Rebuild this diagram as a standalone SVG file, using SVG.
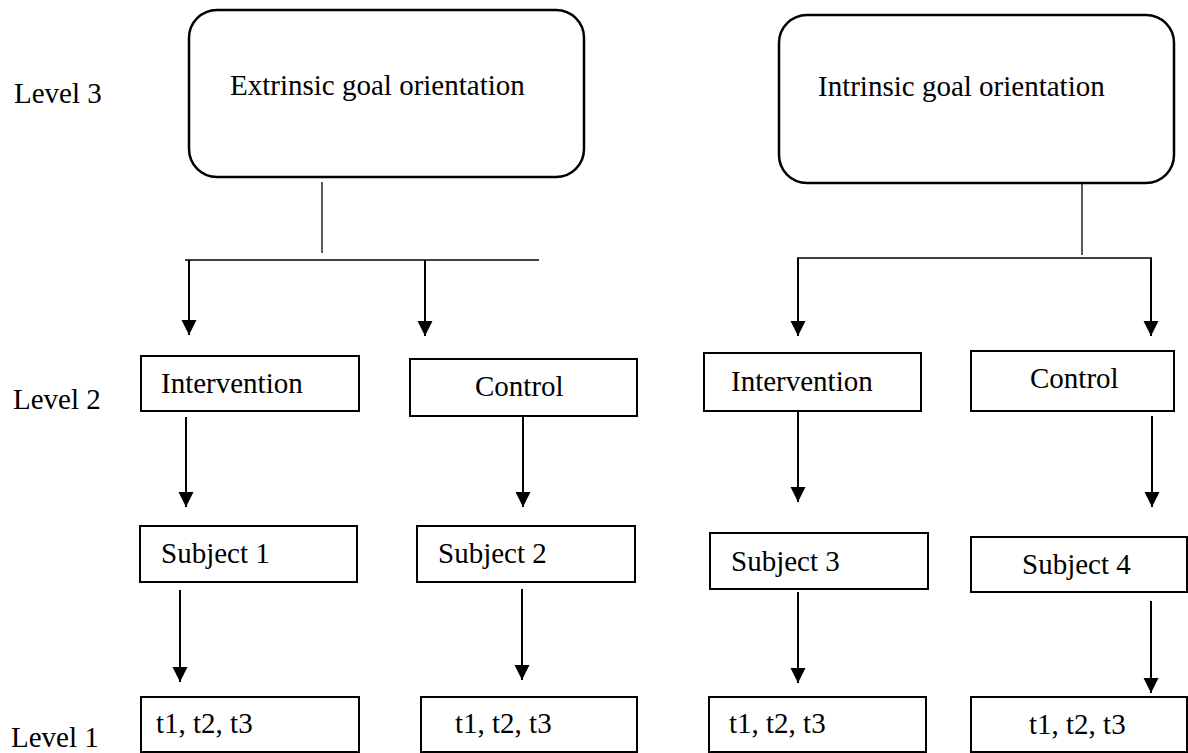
<svg xmlns="http://www.w3.org/2000/svg" width="1188" height="753" viewBox="0 0 1188 753">
<style>
  .box { fill: #ffffff; stroke: #000000; stroke-width: 2; }
  .rbox { fill: #ffffff; stroke: #000000; stroke-width: 2.5; }
  .lbl { font-family: "Liberation Serif", "Times New Roman", serif; font-size: 29px; fill: #000000; }
  .thin { stroke: #000000; stroke-width: 1.3; fill: none; }
  .arr { stroke: #000000; stroke-width: 2; fill: none; marker-end: url(#ah); }
</style>
<defs>
  <marker id="ah" markerUnits="userSpaceOnUse" markerWidth="16" markerHeight="16" refX="15" refY="7.5" orient="auto">
    <path d="M0,0 L15,7.5 L0,15 z" fill="#000000"/>
  </marker>
</defs>
<rect width="1188" height="753" fill="#ffffff"/>

<g id="level-labels">
  <text class="lbl" x="14" y="103">Level 3</text>
  <text class="lbl" x="13" y="409">Level 2</text>
  <text class="lbl" x="11" y="747">Level 1</text>
</g>

<g id="connectors">
  <line class="thin" x1="322" y1="182" x2="322" y2="253"/>
  <line class="thin" x1="185" y1="260" x2="539" y2="260"/>
  <line class="arr" x1="189" y1="260" x2="189" y2="335"/>
  <line class="arr" x1="425" y1="260" x2="425" y2="336"/>
  <line class="thin" x1="1082" y1="183" x2="1082" y2="255"/>
  <line class="thin" x1="797" y1="258" x2="1152" y2="258"/>
  <line class="arr" x1="798" y1="258" x2="798" y2="336"/>
  <line class="arr" x1="1151" y1="258" x2="1151" y2="336"/>
  <line class="arr" x1="186" y1="417" x2="186" y2="507"/>
  <line class="arr" x1="523" y1="416" x2="523" y2="507"/>
  <line class="arr" x1="798" y1="411" x2="798" y2="502"/>
  <line class="arr" x1="1152" y1="416" x2="1152" y2="507"/>
  <line class="arr" x1="180" y1="590" x2="180" y2="682"/>
  <line class="arr" x1="522" y1="589" x2="522" y2="680"/>
  <line class="arr" x1="798" y1="592" x2="798" y2="683"/>
  <line class="arr" x1="1151" y1="601" x2="1151" y2="693"/>
</g>

<g id="extrinsic">
  <rect class="rbox" x="189" y="10" width="395" height="167" rx="28" ry="28"/>
  <text class="lbl" x="230" y="95">Extrinsic goal orientation</text>
</g>
<g id="intrinsic">
  <rect class="rbox" x="779" y="15" width="395" height="168" rx="28" ry="28"/>
  <text class="lbl" x="818" y="96">Intrinsic goal orientation</text>
</g>

<g id="intervention-1">
  <rect class="box" x="141" y="356" width="218" height="55"/>
  <text class="lbl" x="161" y="393">Intervention</text>
</g>
<g id="control-1">
  <rect class="box" x="410" y="359" width="227" height="57"/>
  <text class="lbl" x="475" y="396">Control</text>
</g>
<g id="intervention-2">
  <rect class="box" x="704" y="353" width="217" height="58"/>
  <text class="lbl" x="731" y="391">Intervention</text>
</g>
<g id="control-2">
  <rect class="box" x="971" y="351" width="203" height="60"/>
  <text class="lbl" x="1030" y="388">Control</text>
</g>

<g id="subject-1">
  <rect class="box" x="140" y="526" width="217" height="56"/>
  <text class="lbl" x="161" y="563">Subject 1</text>
</g>
<g id="subject-2">
  <rect class="box" x="417" y="526" width="218" height="56"/>
  <text class="lbl" x="438" y="563">Subject 2</text>
</g>
<g id="subject-3">
  <rect class="box" x="710" y="533" width="218" height="56"/>
  <text class="lbl" x="731" y="571">Subject 3</text>
</g>
<g id="subject-4">
  <rect class="box" x="971" y="537" width="216" height="55"/>
  <text class="lbl" x="1022" y="574">Subject 4</text>
</g>

<g id="times-1">
  <rect class="box" x="141" y="697" width="218" height="55"/>
  <text class="lbl" x="156" y="733">t1, t2, t3</text>
</g>
<g id="times-2">
  <rect class="box" x="421" y="697" width="216" height="55"/>
  <text class="lbl" x="455" y="733">t1, t2, t3</text>
</g>
<g id="times-3">
  <rect class="box" x="709" y="697" width="217" height="55"/>
  <text class="lbl" x="729" y="733">t1, t2, t3</text>
</g>
<g id="times-4">
  <rect class="box" x="971" y="697" width="216" height="55"/>
  <text class="lbl" x="1029" y="734">t1, t2, t3</text>
</g>
</svg>
